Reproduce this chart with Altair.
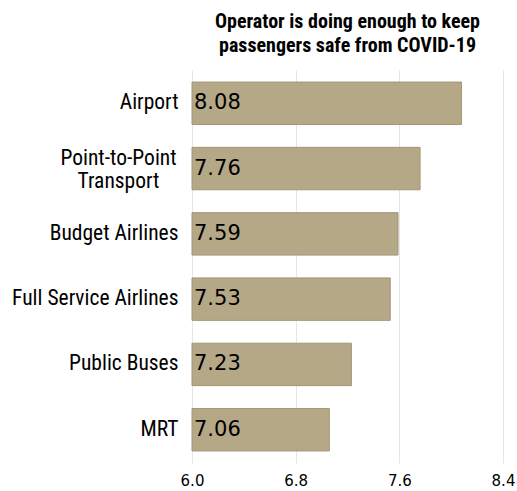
import altair as alt
import pandas as pd

categories = ["Airport", "Point-to-Point|Transport", "Budget Airlines", "Full Service Airlines", "Public Buses", "MRT"]
values = [8.08, 7.76, 7.59, 7.53, 7.23, 7.06]
ticks = [6.0, 6.8, 7.6, 8.4]

df = pd.DataFrame({"cat": categories, "val": values, "lbl": [f"{v:.2f}" for v in values]})

LBL_FONT = "Roboto Condensed, Liberation Sans Narrow, Roboto"
MULTI = "indexof(datum.value, '|') >= 0"

y = alt.Y("cat:N", sort=categories, title=None,
          scale=alt.Scale(paddingInner=0.35, paddingOuter=0.185),
          axis=alt.Axis(labelExpr="split(datum.label, '|')", labelFont=LBL_FONT,
                        labelFontSize=21.5, labelColor="#000", ticks=False, domain=False,
                        labelLimit=250, labelLineHeight=23,
                        labelAlign={"condition": {"test": MULTI, "value": "center"}, "value": "right"},
                        labelPadding={"condition": {"test": MULTI, "value": 74}, "value": 14},
                        labelOffset={"condition": {"test": MULTI, "value": -10}, "value": 0}))
x = alt.X("val:Q", title=None, scale=alt.Scale(domain=[6.0, 8.4], nice=False, zero=False),
          axis=alt.Axis(values=ticks, format=".1f", labelFont="DejaVu Sans", labelFontSize=15,
                        labelColor="#000", ticks=False, domain=False, grid=True,
                        gridColor="#e6e6e6", labelPadding=10, labelFlush=False))

bars = alt.Chart(df).mark_bar(color="#b5a887", stroke="#a39677", strokeWidth=1).encode(x=x, x2=alt.datum(6.0), y=y)
text = alt.Chart(df).mark_text(align="left", baseline="middle", dx=2, font="DejaVu Sans",
                               fontSize=21, color="#000").encode(
    x=alt.datum(6.0), y=alt.Y("cat:N", sort=categories), text="lbl:N")

chart = (bars + text).properties(
    width=311, height=393,
    title=alt.TitleParams(["Operator is doing enough to keep", "passengers safe from COVID-19"],
                          font=LBL_FONT, fontSize=20, fontWeight="bold",
                          color="#000", anchor="middle", offset=14, lineHeight=24),
    autosize=alt.AutoSizeParams(type="none"),
    padding={"left": 192, "top": 70, "right": 14, "bottom": 28},
).configure_view(stroke=None)

chart.save("out.html", embed_options={"renderer": "svg", "actions": False})
